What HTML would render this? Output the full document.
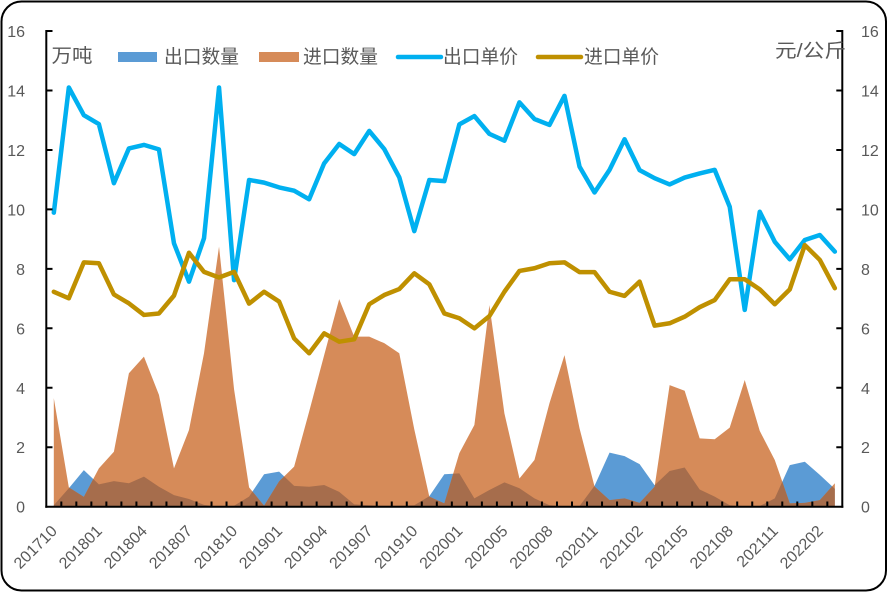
<!DOCTYPE html>
<html>
<head>
<meta charset="utf-8">
<style>
  html,body{margin:0;padding:0;background:#fff;}
  svg{display:block;}
  text{font-family:"Liberation Sans","Noto Sans CJK SC",sans-serif;fill:#595959;}
</style>
</head>
<body>
<svg width="888" height="593" viewBox="0 0 888 593" xmlns="http://www.w3.org/2000/svg">
  <rect x="0" y="0" width="888" height="593" fill="#fff"/>
  <rect x="1.5" y="1.5" width="884.5" height="589" rx="20" ry="20" fill="#fff" stroke="#000" stroke-width="2"/>

  <defs>
    <clipPath id="oclip">
      <polygon points="0,0 0,3.65 1,0.65 2,0.33 3,1.29 4,1.85 5,4.49 6,5.05 7,3.76 8,1.29 9,2.58 10,5.16 11,8.75 12,3.95 13,0.65 14,0.03 15,0.85 16,1.35 17,3.2 18,5.1 19,6.98 20,5.72 21,5.72 22,5.5 23,5.16 24,2.6 25,0.34 26,0.11 27,1.8 28,2.75 29,6.78 30,3.14 31,0.95 32,1.57 33,3.48 34,5.1 35,2.64 36,0.68 37,0.22 38,0.28 39,0.13 40,0.67 41,4.09 42,3.9 43,2.3 44,2.27 45,2.66 46,4.26 47,2.55 48,1.57 49,0.11 50,0.13 51,0.22 52,0.79 52,0"/>
    </clipPath>
  </defs>

  <g transform="translate(53.81,506.7) scale(15.02,-29.73)">
    <!-- export qty (blue area) -->
    <polygon fill="#5B9BD5" points="0,0 0,0.05 1,0.62 2,1.23 3,0.75 4,0.86 5,0.79 6,1.01 7,0.67 8,0.39 9,0.26 10,0.06 11,0 12,0.03 13,0.34 14,1.09 15,1.18 16,0.7 17,0.67 18,0.73 19,0.5 20,0.08 21,0.05 22,0.03 23,0.03 24,0.05 25,0.35 26,1.09 27,1.12 28,0.28 29,0.56 30,0.82 31,0.62 32,0.28 33,0.05 34,0.02 35,0.02 36,0.7 37,1.82 38,1.7 39,1.43 40,0.72 41,1.2 42,1.32 43,0.58 44,0.34 45,0.05 46,0.02 47,0.02 48,0.28 49,1.4 50,1.51 51,1.07 52,0.6 52,0"/>
    <!-- import qty (orange area) -->
    <polygon fill="#D68B59" points="0,0 0,3.65 1,0.65 2,0.33 3,1.29 4,1.85 5,4.49 6,5.05 7,3.76 8,1.29 9,2.58 10,5.16 11,8.75 12,3.95 13,0.65 14,0.03 15,0.85 16,1.35 17,3.2 18,5.1 19,6.98 20,5.72 21,5.72 22,5.5 23,5.16 24,2.6 25,0.34 26,0.11 27,1.8 28,2.75 29,6.78 30,3.14 31,0.95 32,1.57 33,3.48 34,5.1 35,2.64 36,0.68 37,0.22 38,0.28 39,0.13 40,0.67 41,4.09 42,3.9 43,2.3 44,2.27 45,2.66 46,4.26 47,2.55 48,1.57 49,0.11 50,0.13 51,0.22 52,0.79 52,0"/>
    <!-- overlap -->
    <polygon fill="#A66D4C" clip-path="url(#oclip)" points="0,0 0,0.05 1,0.62 2,1.23 3,0.75 4,0.86 5,0.79 6,1.01 7,0.67 8,0.39 9,0.26 10,0.06 11,0 12,0.03 13,0.34 14,1.09 15,1.18 16,0.7 17,0.67 18,0.73 19,0.5 20,0.08 21,0.05 22,0.03 23,0.03 24,0.05 25,0.35 26,1.09 27,1.12 28,0.28 29,0.56 30,0.82 31,0.62 32,0.28 33,0.05 34,0.02 35,0.02 36,0.7 37,1.82 38,1.7 39,1.43 40,0.72 41,1.2 42,1.32 43,0.58 44,0.34 45,0.05 46,0.02 47,0.02 48,0.28 49,1.4 50,1.51 51,1.07 52,0.6 52,0"/>
    <!-- export price (blue line) -->
    <polyline fill="none" stroke="#00B0F0" stroke-width="4.5" stroke-linejoin="round" stroke-linecap="round" vector-effect="non-scaling-stroke" points="0,9.89 1,14.1 2,13.17 3,12.87 4,10.88 5,12.05 6,12.17 7,12.02 8,8.86 9,7.57 10,9.03 11,14.1 12,7.62 13,10.99 14,10.9 15,10.74 16,10.63 17,10.34 18,11.55 19,12.2 20,11.86 21,12.64 22,12.03 23,11.08 24,9.27 25,10.99 26,10.95 27,12.86 28,13.14 29,12.54 30,12.31 31,13.6 32,13.04 33,12.84 34,13.82 35,11.44 36,10.57 37,11.33 38,12.36 39,11.32 40,11.05 41,10.84 42,11.07 43,11.21 44,11.33 45,10.09 46,6.62 47,9.92 48,8.91 49,8.32 50,8.97 51,9.14 52,8.58"/>
    <!-- import price (gold line) -->
    <polyline fill="none" stroke="#BF9000" stroke-width="4.5" stroke-linejoin="round" stroke-linecap="round" vector-effect="non-scaling-stroke" points="0,7.23 1,7.01 2,8.22 3,8.19 4,7.14 5,6.84 6,6.45 7,6.5 8,7.1 9,8.54 10,7.9 11,7.71 12,7.9 13,6.83 14,7.23 15,6.9 16,5.66 17,5.16 18,5.83 19,5.55 20,5.63 21,6.81 22,7.12 23,7.32 24,7.85 25,7.48 26,6.5 27,6.34 28,6.0 29,6.41 30,7.23 31,7.93 32,8.02 33,8.19 34,8.22 35,7.89 36,7.89 37,7.23 38,7.09 39,7.57 40,6.09 41,6.17 42,6.39 43,6.71 44,6.95 45,7.65 46,7.65 47,7.31 48,6.81 49,7.31 50,8.8 51,8.3 52,7.35"/>
  </g>

  <!-- axes -->
  <g stroke="#000" stroke-width="2" fill="none">
    <line x1="46.3" y1="30" x2="46.3" y2="507.7"/>
    <line x1="842.3" y1="30" x2="842.3" y2="507.7"/>
    <line x1="45.3" y1="506.7" x2="843.3" y2="506.7"/>
    <!-- left ticks -->
    <path d="M46.3 31H52.5M46.3 90.5H52.5M46.3 150H52.5M46.3 209.4H52.5M46.3 268.9H52.5M46.3 328.3H52.5M46.3 387.8H52.5M46.3 447.2H52.5"/>
    <!-- right ticks -->
    <path d="M842.3 31H836.3M842.3 90.5H836.3M842.3 150H836.3M842.3 209.4H836.3M842.3 268.9H836.3M842.3 328.3H836.3M842.3 387.8H836.3M842.3 447.2H836.3"/>
    <!-- x ticks -->
    <path d="M61.32 506.7V501.5M76.34 506.7V501.5M91.36 506.7V501.5M106.38 506.7V501.5M121.4 506.7V501.5M136.42 506.7V501.5M151.44 506.7V501.5M166.46 506.7V501.5M181.48 506.7V501.5M196.5 506.7V501.5M211.52 506.7V501.5M226.54 506.7V501.5M241.56 506.7V501.5M256.58 506.7V501.5M271.6 506.7V501.5M286.62 506.7V501.5M301.64 506.7V501.5M316.66 506.7V501.5M331.68 506.7V501.5M346.7 506.7V501.5M361.72 506.7V501.5M376.74 506.7V501.5M391.76 506.7V501.5M406.78 506.7V501.5M421.8 506.7V501.5M436.82 506.7V501.5M451.84 506.7V501.5M466.86 506.7V501.5M481.88 506.7V501.5M496.9 506.7V501.5M511.92 506.7V501.5M526.94 506.7V501.5M541.96 506.7V501.5M556.98 506.7V501.5M572 506.7V501.5M587.02 506.7V501.5M602.04 506.7V501.5M617.06 506.7V501.5M632.08 506.7V501.5M647.1 506.7V501.5M662.12 506.7V501.5M677.14 506.7V501.5M692.16 506.7V501.5M707.18 506.7V501.5M722.2 506.7V501.5M737.22 506.7V501.5M752.24 506.7V501.5M767.26 506.7V501.5M782.28 506.7V501.5M797.3 506.7V501.5M812.32 506.7V501.5M827.34 506.7V501.5"/>
  </g>

  <!-- left tick labels -->
  <g font-size="16" text-anchor="end">
    <text x="25" y="37">16</text>
    <text x="25" y="96.5">14</text>
    <text x="25" y="156">12</text>
    <text x="25" y="215.4">10</text>
    <text x="25" y="274.9">8</text>
    <text x="25" y="334.3">6</text>
    <text x="25" y="393.8">4</text>
    <text x="25" y="453.2">2</text>
    <text x="25" y="512.7">0</text>
  </g>
  <!-- right tick labels -->
  <g font-size="16" text-anchor="start">
    <text x="861" y="37">16</text>
    <text x="861" y="96.5">14</text>
    <text x="861" y="156">12</text>
    <text x="861" y="215.4">10</text>
    <text x="861" y="274.9">8</text>
    <text x="861" y="334.3">6</text>
    <text x="861" y="393.8">4</text>
    <text x="861" y="453.2">2</text>
    <text x="861" y="512.7">0</text>
  </g>

  <!-- x labels -->
  <g font-size="16" text-anchor="end">
    <text transform="translate(58,532) rotate(-45)">201710</text>
    <text transform="translate(103.1,532) rotate(-45)">201801</text>
    <text transform="translate(148.1,532) rotate(-45)">201804</text>
    <text transform="translate(193.2,532) rotate(-45)">201807</text>
    <text transform="translate(238.3,532) rotate(-45)">201810</text>
    <text transform="translate(283.3,532) rotate(-45)">201901</text>
    <text transform="translate(328.4,532) rotate(-45)">201904</text>
    <text transform="translate(373.5,532) rotate(-45)">201907</text>
    <text transform="translate(418.5,532) rotate(-45)">201910</text>
    <text transform="translate(463.6,532) rotate(-45)">202001</text>
    <text transform="translate(508.7,532) rotate(-45)">202005</text>
    <text transform="translate(553.7,532) rotate(-45)">202008</text>
    <text transform="translate(598.8,532) rotate(-45)">202011</text>
    <text transform="translate(643.9,532) rotate(-45)">202102</text>
    <text transform="translate(688.9,532) rotate(-45)">202105</text>
    <text transform="translate(734,532) rotate(-45)">202108</text>
    <text transform="translate(779.1,532) rotate(-45)">202111</text>
    <text transform="translate(824.1,532) rotate(-45)">202202</text>
  </g>

  <!-- axis titles & legend -->
  <g font-size="19">
    <text x="51.5" y="62" textLength="41" lengthAdjust="spacingAndGlyphs">万吨</text>
    <text x="775" y="57" textLength="71" lengthAdjust="spacingAndGlyphs">元/公斤</text>
    <rect x="118" y="52" width="39" height="10" fill="#5B9BD5"/>
    <text x="164" y="63" textLength="75" lengthAdjust="spacingAndGlyphs">出口数量</text>
    <rect x="259" y="52" width="40" height="10" fill="#D68B59"/>
    <text x="303" y="63" textLength="75" lengthAdjust="spacingAndGlyphs">进口数量</text>
    <line x1="398" y1="57" x2="441" y2="57" stroke="#00B0F0" stroke-width="4.5" stroke-linecap="round"/>
    <text x="443" y="63" textLength="75" lengthAdjust="spacingAndGlyphs">出口单价</text>
    <line x1="538" y1="57" x2="581" y2="57" stroke="#BF9000" stroke-width="4.5" stroke-linecap="round"/>
    <text x="584" y="63" textLength="75" lengthAdjust="spacingAndGlyphs">进口单价</text>
  </g>
</svg>
</body>
</html>
